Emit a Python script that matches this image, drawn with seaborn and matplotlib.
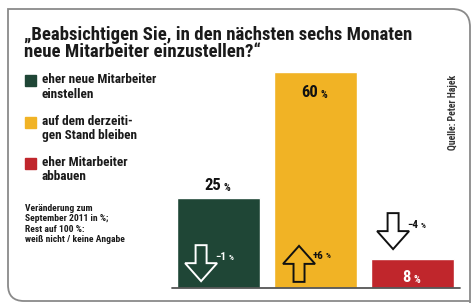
import matplotlib
matplotlib.use('Agg')
import matplotlib.pyplot as plt
import seaborn as sns
from matplotlib import font_manager
from matplotlib.patches import Rectangle, PathPatch, Polygon
from matplotlib.path import Path
from matplotlib.transforms import Affine2D, ScaledTranslation

# Daten
categories = ['eher neue Mitarbeiter einstellen',
              'auf dem derzeitigen Stand bleiben',
              'eher Mitarbeiter abbauen']
legend_labels = ['eher neue Mitarbeiter\neinstellen',
                 'auf dem derzeiti-\ngen Stand bleiben',
                 'eher Mitarbeiter\nabbauen']
values = [25, 60, 8]
changes = [-1, 6, -4]
colors = ['#1f4636', '#f1b325', '#c0262c']

title = '„Beabsichtigen Sie, in den nächsten sechs Monaten\nneue Mitarbeiter einzustellen?“'
note = 'Veränderung zum\nSeptember 2011 in %;\nRest auf 100 %:\nweiß nicht / keine Angabe'
source = 'Quelle: Peter Hajek'

# schmale Schrift suchen
available = {f.name for f in font_manager.fontManager.ttflist}
font = 'DejaVu Sans'
for cand in ['Roboto Condensed', 'Liberation Sans Narrow', 'DejaVu Sans Condensed']:
    if cand in available:
        font = cand
        break

sns.set_style('white')
plt.rcParams['font.family'] = [font, 'DejaVu Sans']

W, H = 471, 303
fig = plt.figure(figsize=(W / 100, H / 100), dpi=100)


def fx(px):
    return px / W


def fy(py):
    return 1 - py / H


# Rahmen mit runden Ecken (oben rechts, unten links)
r1, r2 = 18, 16
frame = Path([(fx(470), fy(306)), (fx(470), fy(9 + r1)), (fx(470), fy(9)),
              (fx(470 - r1), fy(9)), (fx(8), fy(9)), (fx(8), fy(301 - r2)),
              (fx(8), fy(301)), (fx(8 + r2), fy(301)), (fx(470), fy(301))],
             [Path.MOVETO, Path.LINETO, Path.CURVE3, Path.CURVE3, Path.LINETO,
              Path.LINETO, Path.CURVE3, Path.CURVE3, Path.LINETO])
fig.patches.append(PathPatch(frame, transform=fig.transFigure, fill=False,
                             edgecolor='#8a8a8a', lw=1.3))

# Balken
ax = fig.add_axes([fx(172), fy(288), fx(460) - fx(172), fy(72) - fy(288)])
sns.barplot(x=categories, y=values, hue=categories, palette=colors, width=0.85,
            legend=False, ax=ax, saturation=1)
ax.set_xlim(-0.48, 2.49)
ax.set_ylim(0, 60)
ax.set_axis_off()
ax.axhline(0, color='#555555', lw=1.3, clip_on=False)


def value_label(x, y, num, col, size, ha='center'):
    t = ax.text(x, y, num, ha=ha, va='baseline', fontsize=size, fontweight='bold',
                color=col)
    ax.annotate('%', xy=(1, 0), xycoords=t, xytext=(2, 0), textcoords='offset points',
                ha='left', va='bottom', fontsize=size * 0.62, fontweight='bold',
                color=col)
    return t


# Werte an den Balken
for i, v in enumerate(values):
    if v > 40:
        y, col = v - 7, '#111111'
    elif v < 15:
        y, col = 1.6, 'white'
    else:
        y, col = v + 2.2, '#111111'
    value_label(i - 0.06, y, f'{v}', col, 12)

# Pfeile für Veränderung (Form in Pixeln)
down = [(-5.5, 0), (5.5, 0), (5.5, -18), (16, -18), (0, -36), (-16, -18), (-5.5, -18)]
up = [(x, -y) for x, y in down]
# (x-Versatz zur Balkenmitte, y des Pfeilanfangs, Linienfarbe, Füllung)
arrow_pos = [(-0.18, 11.9, 'white', 'none'),
             (-0.17, 1.7, '#111111', 'none'),
             (-0.20, 20.8, '#111111', 'white')]
for i, (dx, ay, edge, face) in enumerate(arrow_pos):
    ch = changes[i]
    trans = Affine2D() + ScaledTranslation(i + dx, ay, ax.transData)
    shape = up if ch > 0 else down
    ax.add_patch(Polygon(shape, closed=True, transform=trans, facecolor=face,
                         edgecolor=edge, lw=1.4, joinstyle='miter', clip_on=False))
    lab = f'+{ch}' if ch > 0 else f'−{abs(ch)}'
    if ch > 0:
        ty = ay + 36 / 3.6 - 2.8
    else:
        ty = ay - 3.3
    t = ax.text(i + dx + 14 / 97, ty, lab, ha='left', va='center', fontsize=8,
                fontweight='bold', color=edge)
    ax.annotate('%', xy=(1, 0.15), xycoords=t, xytext=(1.5, 0),
                textcoords='offset points', ha='left', va='bottom', fontsize=5.5,
                fontweight='bold', color=edge)

# Titel
fig.text(fx(24), fy(26), title, ha='left', va='top', fontsize=13.5,
         fontweight='bold', color='#1a1a1a', linespacing=0.95)

# Legende
tops = [75, 117, 158]
for lab, col, t in zip(legend_labels, colors, tops):
    fig.patches.append(Rectangle((fx(25), fy(t + 11)), fx(11), fy(0) - fy(11),
                                 transform=fig.transFigure, color=col))
    fig.text(fx(42), fy(t - 2), lab, ha='left', va='top', fontsize=9.5,
             fontweight='bold', color='#1a1a1a', linespacing=1.15)

fig.text(fx(25), fy(204), note, ha='left', va='top', fontsize=6.8,
         fontweight='bold', color='#1a1a1a', linespacing=1.2)

fig.text(fx(453), fy(112), source, ha='center', va='center', rotation=90,
         fontsize=7, fontweight='bold', color='#333333')

fig.savefig('out.png', dpi=100)
